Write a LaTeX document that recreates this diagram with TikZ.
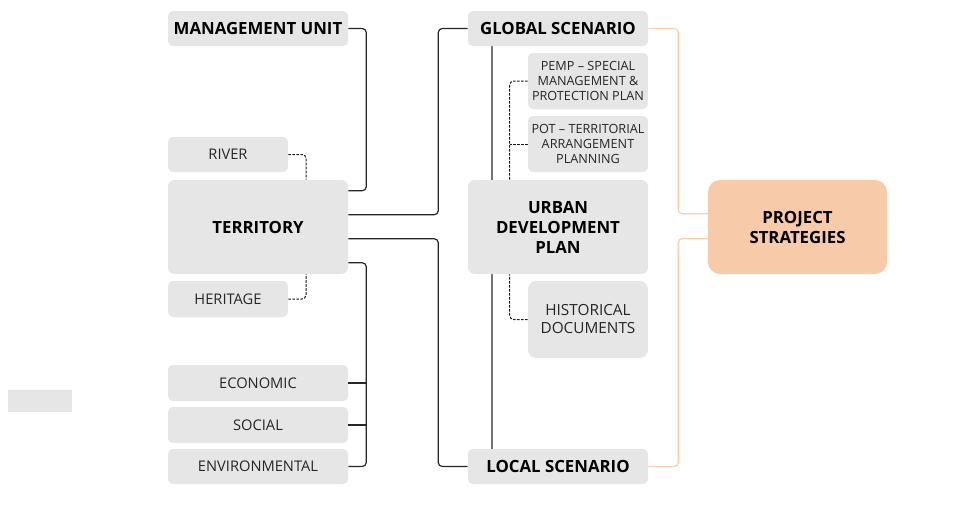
\documentclass[tikz,border=0pt]{standalone}
\usepackage{fontspec}
\setmainfont{Open Sans}
\usetikzlibrary{calc}
\definecolor{boxgray}{HTML}{E6E6E6}
\definecolor{peach}{HTML}{F7CAA9}
\definecolor{peachline}{HTML}{F9CDAE}
\definecolor{txt}{HTML}{262626}
\tikzset{
  box/.style={rectangle, rounded corners=3.5, fill=boxgray, inner sep=0pt, align=center, text=txt, font=\fontsize{11}{13.5}\selectfont},
  smallbox/.style={box, font=\fontsize{9.5}{11.25}\selectfont},
  head/.style={box, text=black, font=\fontsize{12.6}{15}\selectfont\bfseries},
  link/.style={draw=black!85, line width=0.9pt, rounded corners=3},
  dlink/.style={draw=black!90, line width=0.75pt, dash pattern=on 2pt off 1pt, rounded corners=3},
  glink/.style={draw=black!55, line width=0.9pt},
  plink/.style={draw=peachline, line width=0.9pt, rounded corners=3}
}
\begin{document}
\begin{tikzpicture}[x=0.75pt,y=-0.75pt]
\useasboundingbox (0,0) rectangle (971,504);

% vertical spine between the two scenarios (drawn first, boxes sit on top)
\coordinate (spinetop) at (492,46);
\coordinate (spinebot) at (492,449);
\draw[glink] (spinetop) -- (spinebot);

% left column
\node[head, minimum width=180*0.75pt, minimum height=35*0.75pt] (mu) at (258,28.5) {\raisebox{-1pt}{MANAGEMENT UNIT}};
\node[box, minimum width=120*0.75pt, minimum height=35*0.75pt] (river) at (228,154.5) {RIVER};
\node[head, rounded corners=5, minimum width=180*0.75pt, minimum height=94*0.75pt] (terr) at (258,227) {\raisebox{-2.5pt}{TERRITORY}};
\node[box, minimum width=120*0.75pt, minimum height=36*0.75pt] (heritage) at (228,299) {HERITAGE};
\node[box, minimum width=180*0.75pt, minimum height=36*0.75pt] (econ) at (258,383) {ECONOMIC};
\node[box, minimum width=180*0.75pt, minimum height=36*0.75pt] (social) at (258,425) {SOCIAL};
\node[box, minimum width=180*0.75pt, minimum height=35*0.75pt] (env) at (258,466.5) {ENVIRONMENTAL};
\node[fill=boxgray, inner sep=0pt, minimum width=64*0.75pt, minimum height=22*0.75pt] (blank) at (40,401) {};

% middle column
\node[head, minimum width=180*0.75pt, minimum height=35*0.75pt] (global) at (558,28.5) {\raisebox{-1pt}{GLOBAL SCENARIO}};
\node[smallbox, minimum width=120*0.75pt, minimum height=56*0.75pt] (pemp) at (588,81) {PEMP – SPECIAL\\MANAGEMENT \&\\PROTECTION PLAN};
\node[smallbox, minimum width=120*0.75pt, minimum height=56*0.75pt] (pot) at (588,144) {POT – TERRITORIAL\\ARRANGEMENT\\PLANNING};
\node[head, rounded corners=5, minimum width=180*0.75pt, minimum height=94*0.75pt] (udp) at (558,227) {URBAN\\DEVELOPMENT\\PLAN};
\node[box, rounded corners=6, font=\fontsize{11.5}{13.5}\selectfont, minimum width=120*0.75pt, minimum height=77*0.75pt] (hist) at (588,319.5) {HISTORICAL\\DOCUMENTS};
\node[head, minimum width=180*0.75pt, minimum height=35*0.75pt] (local) at (558,466.5) {\raisebox{-1pt}{LOCAL SCENARIO}};

% right column
\node[head, fill=peach, rounded corners=9, minimum width=179*0.75pt, minimum height=94*0.75pt] (proj) at (797.5,227) {PROJECT\\STRATEGIES};

% territory links
\draw[link] (mu.east) -- ++(18,0) |- ($(terr.north east)+(0,11)$);
\draw[link] ($(terr.north east)+(0,35)$) -- ++(90,0) |- (global.west);
\draw[link] ($(terr.north east)+(0,59)$) -- ++(90,0) |- (local.west);
\draw[link] ($(terr.north east)+(0,83)$) -- ++(18,0) |- (env.east);
\draw[link] (econ.east) -- ++(18,0);
\draw[link] (social.east) -- ++(18,0);

% dashed sub-links
\draw[dlink] (river.east) -| ($(terr.north)+(48,0)$);
\draw[dlink] (heritage.east) -| ($(terr.south)+(48,0)$);
\draw[dlink] (pemp.west) -| ($(udp.north west)+(42,0)$);
\draw[dlink] (pot.west) -- ++(-18,0);
\draw[dlink] (hist.west) -| ($(udp.south west)+(42,0)$);

% links to project strategies
\draw[plink] (global.east) -- ++(30,0) |- ($(proj.north west)+(0,34)$);
\draw[plink] (local.east) -- ++(30,0) |- ($(proj.north west)+(0,59)$);
\end{tikzpicture}
\end{document}
